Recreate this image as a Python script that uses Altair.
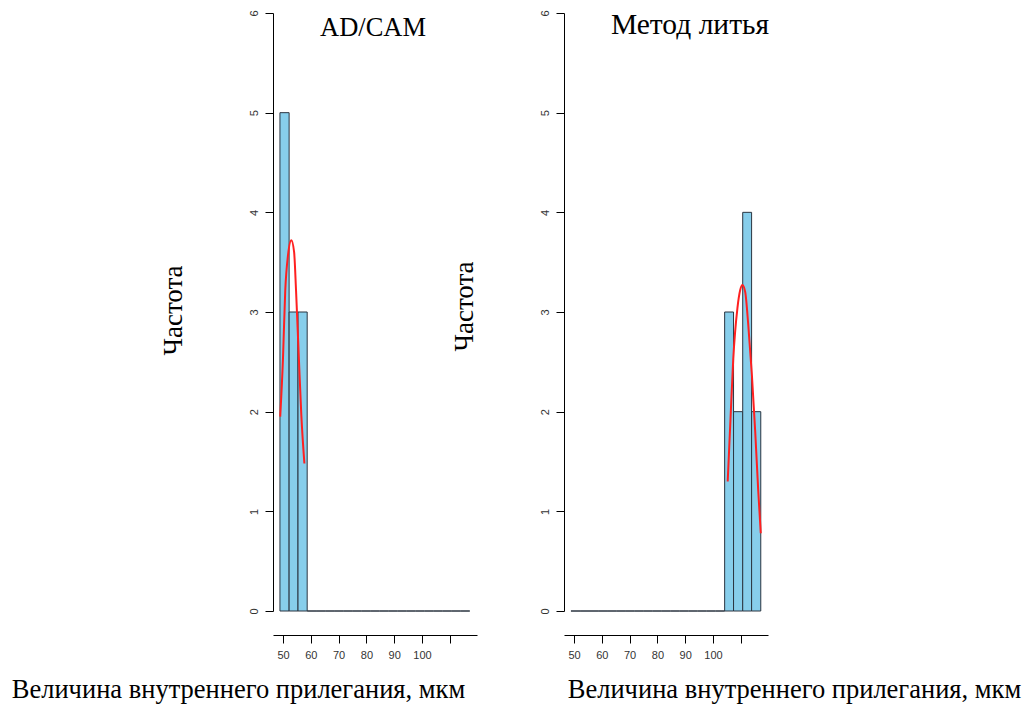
import altair as alt
import pandas as pd

# histogram breaks (shared by both panels) and counts
bin_edges = [48.9, 52.2, 55.4, 58.7, 61.9, 65.2, 68.4, 71.7, 74.9, 78.2, 81.4,
             84.7, 87.9, 91.2, 94.4, 97.7, 100.9, 104.2, 107.4, 110.7, 113.9, 117.2]
counts_cad = [5, 3, 3, 0, 0, 0, 0, 0, 0, 0, 0, 0, 0, 0, 0, 0, 0, 0, 0, 0, 0]
counts_cast = [0, 0, 0, 0, 0, 0, 0, 0, 0, 0, 0, 0, 0, 0, 0, 0, 0, 3, 2, 4, 2]

# fitted density curves
curve_cad_x = [49.0, 50.0, 50.8, 51.8, 53.0, 54.0, 54.7, 55.7, 56.6, 57.7]
curve_cad_y = [1.95, 2.54, 3.21, 3.57, 3.72, 3.60, 3.21, 2.54, 1.96, 1.48]
curve_cast_x = [105.3, 106.2, 107.3, 108.8, 109.8, 110.6, 111.6, 112.7, 114.0, 115.2, 116.3, 117.2]
curve_cast_y = [1.30, 1.86, 2.53, 3.04, 3.22, 3.27, 3.20, 2.87, 2.37, 1.80, 1.20, 0.78]

x_ticks = [50, 60, 70, 80, 90, 100, 110]
y_ticks = [0, 1, 2, 3, 4, 5, 6]

titles = ["AD/CAM", "Метод литья"]
x_title = "Величина внутреннего прилегания, мкм"
y_title = "Частота"

W, H = 204, 598
XDOM = [46.4, 119.8]


def panel(counts, cx, cy, title, title_x, title_y, title_size, xtitle_x, ytitle_y):
    bars = pd.DataFrame({"start": bin_edges[:-1], "end": bin_edges[1:],
                         "count": counts, "zero": [0] * len(counts)})
    curve = pd.DataFrame({"x": cx, "y": cy})
    head = pd.DataFrame({"label": [title]})
    xs = alt.Scale(domain=XDOM, nice=False, zero=False)
    ys = alt.Scale(domain=[0, 6], nice=False)
    xaxis = alt.Axis(values=x_ticks, title=x_title, offset=24, grid=False,
                     labelExpr="datum.value == 110 ? '' : datum.label",
                     labelOverlap=False, labelFlush=False, labelSeparation=0,
                     tickSize=8, tickColor="#000", domainColor="#000",
                     labelFont="Liberation Sans", labelFontSize=11, labelColor="#333",
                     labelPadding=6,
                     titleFont="Liberation Serif", titleFontSize=26.5, titleFontWeight="normal",
                     titleColor="#000", titleX=xtitle_x, titleY=62, titleAlign="center",
                     titleBaseline="alphabetic")
    yaxis = alt.Axis(values=y_ticks, title=y_title, grid=False, tickSize=8, format="d",
                     labelOverlap=False, labelFlush=False,
                     tickColor="#000", domainColor="#000",
                     labelFont="Liberation Sans", labelFontSize=11, labelColor="#333",
                     labelAngle=270, labelAlign="center", labelBaseline="bottom",
                     labelPadding=6,
                     titleFont="Liberation Serif", titleFontSize=27, titleFontWeight="normal",
                     titleColor="#000", titleAngle=270, titleX=-100, titleY=ytitle_y,
                     titleAlign="center", titleBaseline="middle")
    b = alt.Chart(bars).mark_rect(fill="#87CEEB", stroke="#2b3540", strokeWidth=1).encode(
        x=alt.X("start:Q", scale=xs, axis=xaxis),
        x2="end:Q",
        y=alt.Y("count:Q", scale=ys, axis=yaxis),
        y2="zero:Q",
    )
    l = alt.Chart(curve).mark_line(color="#ff2020", strokeWidth=2,
                                   interpolate="monotone").encode(
        x=alt.X("x:Q", scale=xs, axis=xaxis),
        y=alt.Y("y:Q", scale=ys, axis=yaxis),
    )
    t = alt.Chart(head).mark_text(font="Liberation Serif", fontSize=title_size, color="#000",
                                  align="center", baseline="alphabetic").encode(
        text="label:N",
        x=alt.value(title_x),
        y=alt.value(title_y),
    )
    return alt.layer(b, l, t).properties(width=W, height=H)


left = panel(counts_cad, curve_cad_x, curve_cad_y, titles[0], 100, 23, 26.5, -35, 297)
right = panel(counts_cast, curve_cast_x, curve_cast_y, titles[1], 126, 21, 29.5, 230, 293)

chart = alt.hconcat(left, right, spacing=87, bounds="flush").properties(
    autosize=alt.AutoSizeParams(type="none"),
    padding={"left": 273, "top": 13, "right": 756, "bottom": 693},
).configure_view(stroke=None).configure_axis(labelOverlap=False)

chart.save("out.html", embed_options={"renderer": "svg", "actions": False})
